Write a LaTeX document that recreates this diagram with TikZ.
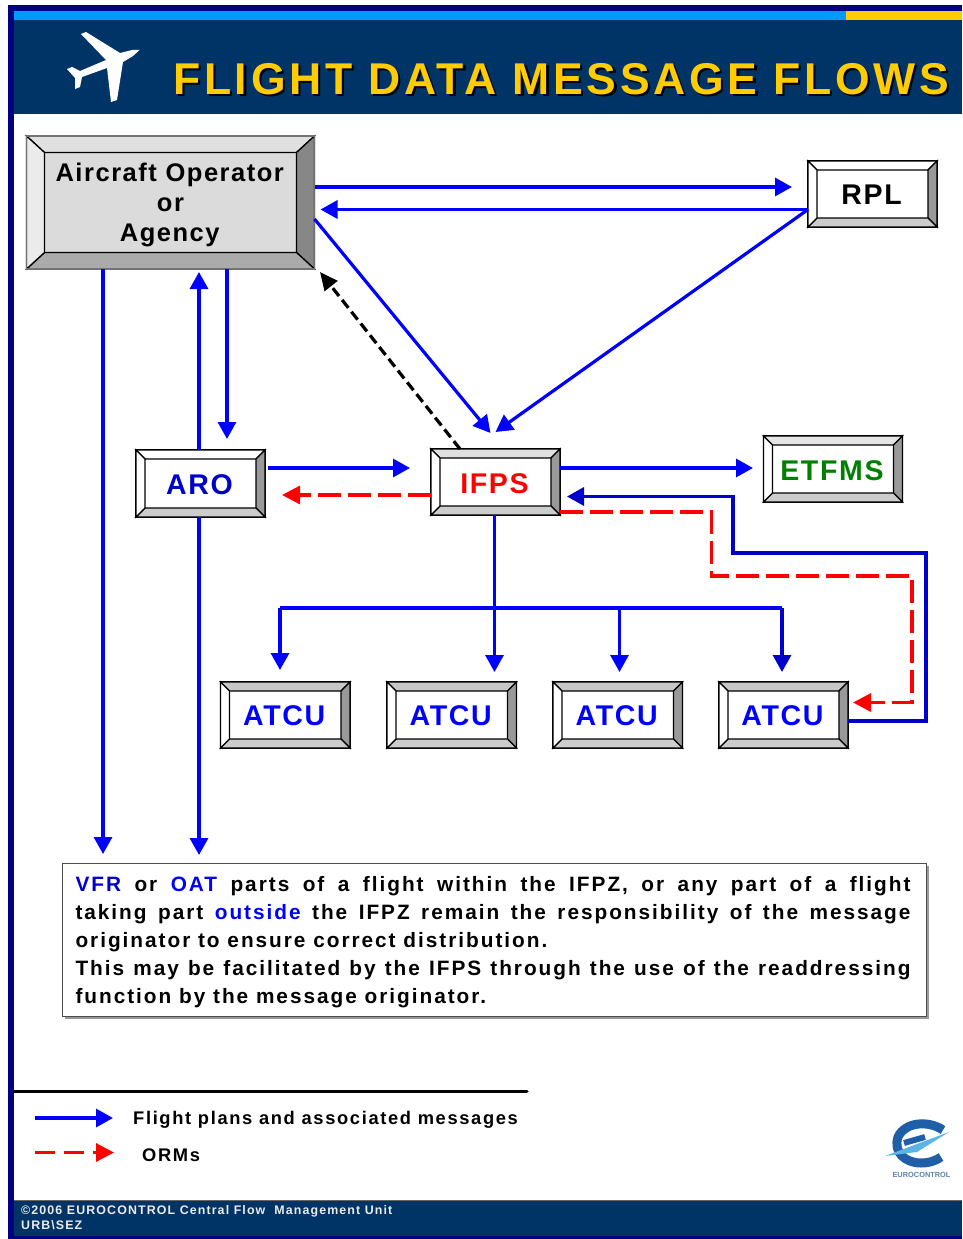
\documentclass[tikz,border=0pt]{standalone}
\usepackage{fontspec}
\usetikzlibrary{arrows.meta,calc}
\setmainfont{Liberation Sans}
\newfontfamily\lsA[LetterSpace=6]{Liberation Sans}
\newfontfamily\lsT[LetterSpace=8.3]{Liberation Sans}
\newfontfamily\lsB[LetterSpace=9]{Liberation Sans}
\newfontfamily\lsN[LetterSpace=9.5]{Liberation Sans}
\definecolor{navybar}{HTML}{000080}
\definecolor{band}{HTML}{003366}
\definecolor{sky}{HTML}{0099FF}
\definecolor{gold}{HTML}{FFCC00}
\definecolor{dkblue}{HTML}{0000CC}
\definecolor{etgreen}{HTML}{008000}
\definecolor{logoblue}{HTML}{1F5FA8}
\definecolor{logosky}{HTML}{5BB4E6}
\tikzset{
  bevel/.style={draw=black,line width=1.5pt,inner sep=0pt,outer sep=0pt,align=center},
  facet/.style={draw=black,line width=1.3pt,line join=miter},
  flow/.style={draw=blue,line width=3.2pt,-{Triangle[length=17pt,width=18pt]}},
  flowdk/.style={flow,draw=dkblue,line width=3.5pt},
  bus/.style={draw=blue,line width=3.2pt},
  orm/.style={draw=red,line width=3.2pt,dash pattern=on 23pt off 7pt,-{Triangle[length=18pt,width=18pt]}},
  ack/.style={draw=black,line width=3.2pt,dash pattern=on 10pt off 5pt,-{Triangle[length=18pt,width=16pt]}},
  titletext/.style={font=\fontsize{44.5}{46}\selectfont\lsT\bfseries,anchor=base west,inner sep=0pt},
  foot/.style={font=\fontsize{12.4}{14}\selectfont\lsB\bfseries,text=white!92!black,anchor=base west,inner sep=0pt},
  legend/.style={font=\fontsize{18.3}{20}\selectfont\lsB\bfseries,anchor=base west,inner sep=0pt},
}
\def\cL{white}\def\cR{black!40}\def\cB{black!20}\def\cC{white}
\def\bh{21pt}
\newcommand\boxlabel[2][black]{{\fontsize{28.5}{30}\selectfont\lsA\bfseries\color{#1}#2\hspace*{2pt}}}
\newcommand\bevelfacets[4][white]{% top colour, name, inset x, inset y
  \coordinate (i1) at ($(#2.north west)+(#3,#4)$);
  \coordinate (i2) at ($(#2.north east)+(-#3,#4)$);
  \coordinate (i3) at ($(#2.south east)+(-#3,-#4)$);
  \coordinate (i4) at ($(#2.south west)+(#3,-#4)$);
  \draw[facet,fill=#1] (#2.north west) -- (#2.north east) -- (i2) -- (i1) -- cycle;
  \draw[facet,fill=\cR] (#2.north east) -- (#2.south east) -- (i3) -- (i2) -- cycle;
  \draw[facet,fill=\cB] (#2.south east) -- (#2.south west) -- (i4) -- (i3) -- cycle;
  \draw[facet,fill=\cL] (#2.south west) -- (#2.north west) -- (i1) -- (i4) -- cycle;
}
\newcommand\mkbox[8][white]{% top colour; name x1 y1 x2 y2 inset content
  \node[bevel,fill=\cC,text height=\bh,text depth=0pt,minimum width={(#5-#3)*1pt},minimum height={(#6-#4)*1pt}]
     (#2) at ({(#3+#5)/2},{(#4+#6)/2}) {#8};
  \bevelfacets[#1]{#2}{#7}{#7}
}
\begin{document}
\begin{tikzpicture}[x=1pt,y=-1pt]
\useasboundingbox (0,0) rectangle (962,1239);
\fill[white] (0,0) rectangle (962,1239);
% frame
\fill[navybar] (8,5) rectangle (962,11);
\fill[navybar] (8,5) rectangle (14,1239);
\fill[navybar] (8,1236) rectangle (962,1239);
\fill[sky] (14,11) rectangle (846,20);
\fill[gold] (846,11) rectangle (962,20);
\fill[band] (14,20) rectangle (962,114);
\fill[band] (14,1200) rectangle (962,1236);
\draw[black!60,line width=0.8pt] (14,1200) -- (962,1200);
% aeroplane
\fill[white] (81,34) -- (86,32) -- (120,53) -- (132,50) -- (139.5,50) -- (133,56) -- (123,62)
  -- (117,100) -- (111,102) -- (107,68) -- (82,77) -- (80,87) -- (75,89) -- (75,78)
  -- (67,69) -- (72,67) -- (80,71) -- (106,60) -- cycle;
% title
\node[titletext,text=black] (titleshadow) at (175.5,96.5) {FLIGHT DATA MESSAGE FLOWS};
\node[titletext,text=gold] (title) at (173,94) {FLIGHT DATA MESSAGE FLOWS};
% boxes
\begingroup
\def\cL{black!8}\def\cR{black!47}\def\cB{black!33}\def\cC{black!14}
\node[bevel,line width=1.2pt,fill=\cC,minimum width=288pt,minimum height=133pt,
  font=\fontsize{25.5}{30}\selectfont\lsA\bfseries] (aoa) at (170.5,202.5)
  {\rule{0pt}{23.8pt}Aircraft Operator\hspace*{1.5pt}\\or\hspace*{1.5pt}\\Agency\hspace*{1.5pt}};
\bevelfacets[black!12]{aoa}{18}{16.5}
\draw[black!55,line width=1.2pt] (aoa.north west) rectangle (aoa.south east);
\endgroup
\mkbox{rpl}{808}{161}{937}{227}{9}{\boxlabel{RPL}}
\mkbox{aro}{136}{450}{265}{517}{9}{\boxlabel[dkblue]{ARO}}
\def\bh{22pt}
\mkbox[black!12]{ifps}{431}{449}{560}{515}{9}{\boxlabel[red]{IFPS}}
\mkbox[black!10]{etfms}{763.5}{436}{902.5}{502}{9}{\boxlabel[etgreen]{ETFMS}}
\def\bh{21pt}
\mkbox[black!22]{atcua}{220.5}{682}{350}{748}{9}{\boxlabel[blue]{ATCU}}
\mkbox[black!22]{atcub}{387}{682}{516.5}{748}{9}{\boxlabel[blue]{ATCU}}
\mkbox[black!22]{atcuc}{553}{682}{682.5}{748}{9}{\boxlabel[blue]{ATCU}}
\mkbox[black!22]{atcud}{719}{682}{848}{748}{9}{\boxlabel[blue]{ATCU}}
% note box
\fill[black!40] (65,866) rectangle (929,1019);
\node[draw=black!70,line width=0.8pt,fill=white,minimum width=864pt,minimum height=153pt,
  inner sep=0pt,outer sep=0pt] (note) at (494,939.5)
  {\hspace*{-2pt}\begin{minipage}{835pt}\vspace*{6pt}\fontsize{20.8}{28}\selectfont\lsN\bfseries\parindent=0pt
  {\color{dkblue}VFR} or {\color{blue}OAT} parts of a flight within the IFPZ, or any part of a flight\linebreak
  taking part {\color{blue}outside} the IFPZ remain the responsibility of the message\linebreak
  originator to ensure correct distribution.\par
  This may be facilitated by the IFPS through the use of the readdressing\linebreak
  function by the message originator.\end{minipage}};
% free ends
\coordinate (noteA) at (note.north -| 103,0);
\coordinate (noteB) at (note.north -| 199,0);
% connectors
\draw[flow,shorten >=16pt] (aoa.east |- 0,187) -- (rpl.west |- 0,187);
\draw[flow,shorten >=6pt] (rpl.west |- 0,209.5) -- (aoa.east |- 0,209.5);
\draw[flow] (aoa.east |- 0,219) -- (490.5,433);
\draw[flow] (rpl.west |- 0,209.5) -- (495.5,432);
\draw[ack] (460,449) -- (320,272);
\draw[flow,shorten >=9pt] (103,269) -- (noteA);
\draw[flow,shorten >=3pt] (aro.north -| 199,0) -- (aoa.south -| 199,0);
\draw[flow] (aoa.south -| 227,0) -- (227,439);
\draw[flow,shorten >=8pt] (aro.south -| 199,0) -- (noteB);
\draw[flow] (268,468) -- (410,468);
\draw[orm] (ifps.west |- 0,495) -- (282,495);
\draw[flow] (ifps.east |- 0,468) -- (753,468);
\draw[orm] (ifps.east |- 0,512) -- (711.5,512) -- (711.5,576) -- (912,576) -- (912,702.5) -- (853,702.5);
\draw[flowdk] (atcud.east |- 0,721) -- (926,721) -- (926,553) -- (733,553) -- (733,496.5) -- (567,496.5);
\draw[bus] (280,608) -- (782,608);
\draw[flow] (ifps.south -| 494.5,0) -- (494.5,672);
\draw[flow] (280,608) -- (280,670);
\draw[flow] (619.5,608) -- (619.5,672);
\draw[flowdk,line width=3.2pt] (782,608) -- (782,672);
% legend
\draw[black,line width=3pt,line cap=round] (14,1091) -- (527,1091);
\coordinate (la) at (35,1118);
\coordinate (lb) at (113,1118);
\coordinate (lc) at (35,1152.5);
\coordinate (ld) at (114,1152.5);
\draw[flow] (la) -- (lb);
\draw[orm,dash pattern=on 20pt off 9pt] (lc) -- (ld);
\node[legend] (lt1) at (133,1124) {Flight plans and associated messages};
\node[legend] (lt2) at (142,1161) {ORMs};
% footer
\node[foot] (f1) at (21,1214) {©2006 EUROCONTROL Central Flow\ \ Management Unit};
\node[foot] (f2) at (21,1229) {URB\textbackslash SEZ};
% logo
\draw[logoblue,line width=9pt] (943,1130) .. controls (928,1120) and (905,1122) .. (898,1137) .. controls (893,1152) and (905,1163) .. (921,1163) .. controls (930,1163) and (937,1160) .. (941,1157);
\draw[logoblue,line width=6pt] (904,1143) -- (925,1137);
\fill[logosky] (949,1132) -- (885,1156) -- (917,1152) -- cycle;
\node[font=\fontsize{7.4}{8}\selectfont\bfseries,text=logoblue!80!black!70,inner sep=0pt] (logotext) at (921.5,1175) {EUROCONTROL};
\end{tikzpicture}
\end{document}
